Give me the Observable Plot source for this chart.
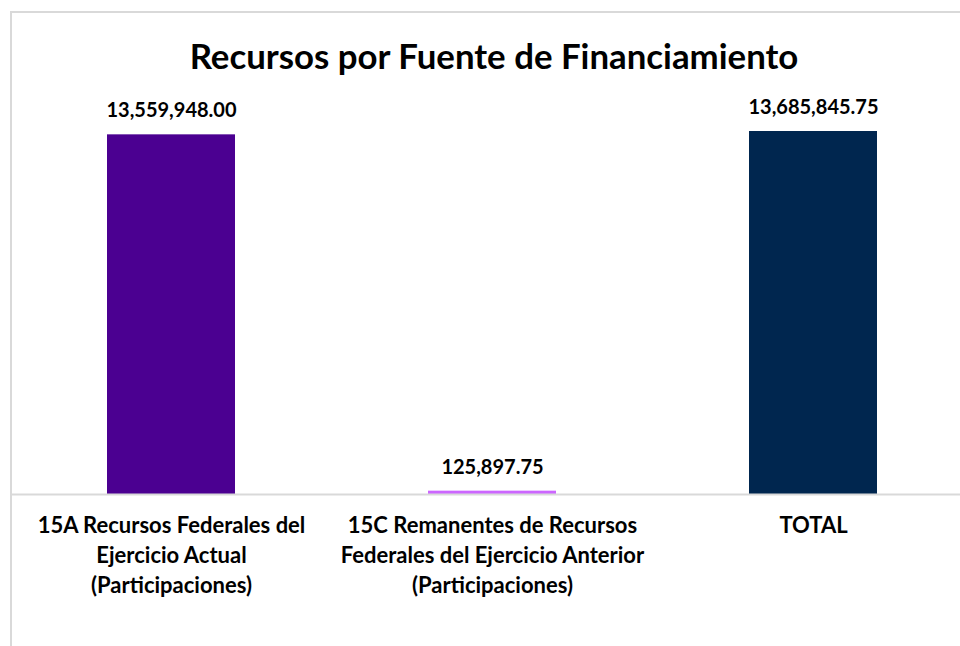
<!DOCTYPE html>
<html>
<head>
<meta charset="utf-8">
<script src="https://cdn.jsdelivr.net/npm/d3@7"></script>
<script src="https://cdn.jsdelivr.net/npm/@observablehq/plot@0.6"></script>
<style>
  html, body { margin: 0; padding: 0; background: #fff; overflow: hidden; }
  #wrap { position: relative; width: 960px; height: 646px; }
  #border { position: absolute; left: 10px; top: 11px; width: 980px; height: 660px;
            border-left: 2px solid #d9d9d9; border-top: 2px solid #d9d9d9; box-sizing: border-box; }
  #chart { position: absolute; left: 0; top: 0; }
</style>
</head>
<body>
<div id="wrap"><div id="border"></div><div id="chart"></div></div>
<script>
const title = "Recursos por Fuente de Financiamiento";
const categories = ["15A", "15C", "TOTAL"];
const tickLabels = [
  "15A Recursos Federales del\nEjercicio Actual\n(Participaciones)",
  "15C Remanentes de Recursos\nFederales del Ejercicio Anterior\n(Participaciones)",
  "TOTAL"
];
const values = [13559948.00, 125897.75, 13685845.75];
const valueLabels = ["13,559,948.00", "125,897.75", "13,685,845.75"];
const colors = ["#4B0091", "#CC66FF", "#00264F"];

const data = categories.map((c, i) => ({cat: c, value: values[i], label: valueLabels[i], tick: tickLabels[i], color: colors[i]}));
const font = "Lato, 'Open Sans', sans-serif";

const chart = Plot.plot({
  width: 960,
  height: 646,
  marginTop: 131,
  marginBottom: 152,
  marginLeft: 11,
  marginRight: 0,
  style: {fontFamily: font, background: "transparent", color: "#000"},
  x: {domain: categories, range: [10, 975], paddingInner: 0.6, paddingOuter: 0.3, axis: null},
  y: {domain: [0, Math.max(...values)], nice: false, axis: null},
  marks: [
    Plot.barY(data, {x: "cat", y: "value", fill: "color"}),
    Plot.ruleY([0], {stroke: "#d9d9d9", strokeWidth: 2}),
    Plot.text(data, {x: "cat", y: "value", text: "label", dy: -24, fontSize: 20, fontWeight: "bold", fill: "#000"}),
    Plot.axisX({domain: categories, tickSize: 0, tickPadding: 17, tickFormat: (d) => tickLabels[categories.indexOf(d)],
      fontSize: 22, fontWeight: "bold", lineHeight: 1.36, fill: "#000", label: null}),
    Plot.text([title], {frameAnchor: "top", dx: 8, dy: -87, fontSize: 34.8, fontWeight: "bold", fill: "#000"})
  ]
});
document.getElementById("chart").appendChild(chart);
</script>
</body>
</html>
